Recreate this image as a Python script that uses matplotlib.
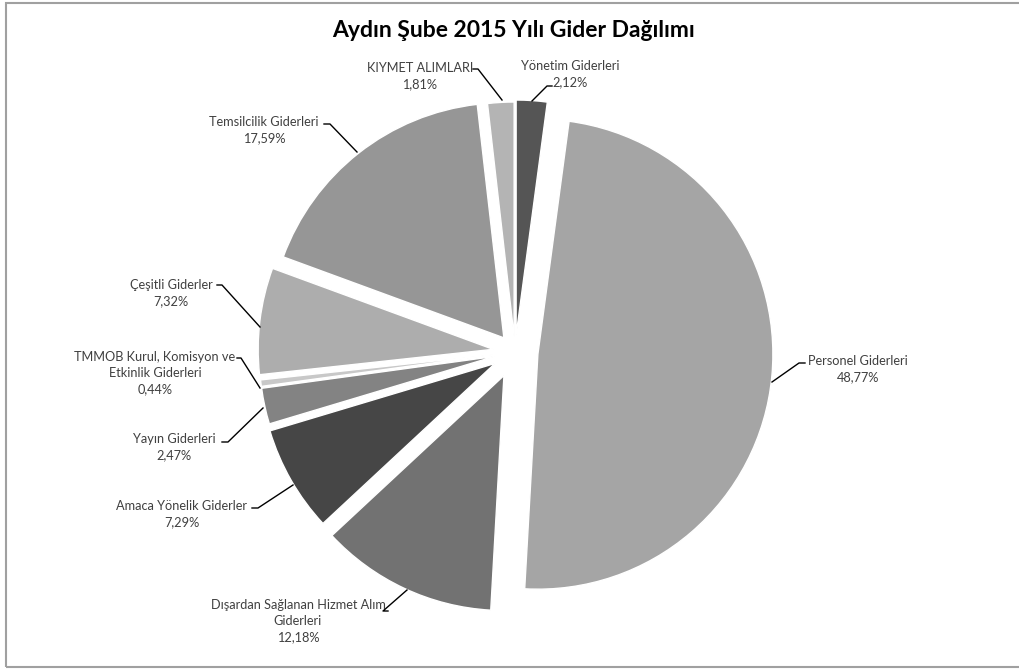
import matplotlib.pyplot as plt
from matplotlib.patches import Rectangle

plt.rcParams['font.family'] = ['Lato', 'DejaVu Sans']

labels = ['Yönetim Giderleri', 'Personel Giderleri',
          'Dışardan Sağlanan Hizmet Alım\nGiderleri', 'Amaca Yönelik Giderler',
          'Yayın Giderleri', 'TMMOB Kurul, Komisyon ve\nEtkinlik Giderleri',
          'Çeşitli Giderler', 'Temsilcilik Giderleri', 'KIYMET ALIMLARI']
values = [2.12, 48.77, 12.18, 7.29, 2.47, 0.44, 7.32, 17.59, 1.81]
colors = ['#555555', '#a5a5a5', '#727272', '#464646', '#838383',
          '#c8c8c8', '#adadad', '#969696', '#b4b4b4']
# offset of each slice in pixels
explode = [17, 23, 26, 23, 21, 21, 22, 18, 15]

# label text centre (px, from top) and leader line points
label_pos = [(570, 74), (858, 369), (298, 621), (182, 514), (174, 447),
             (155, 373), (171, 293), (264, 130), (420, 76)]
leaders = [
    [(552, 86), (547, 86), (532, 101)],
    [(805, 363), (799, 363), (772, 382)],
    [(388, 611), (383, 611), (407, 590)],
    [(252, 508), (258, 508), (293, 485)],
    [(222, 442), (228, 442), (263, 408)],
    [(237, 358), (241, 358), (260, 388)],
    [(217, 285), (222, 285), (260, 327)],
    [(324, 124), (330, 124), (357, 152)],
    [(473, 69), (478, 69), (502, 100)],
]

W, H = 1020, 670
fig = plt.figure(figsize=(10.2, 6.7), dpi=100)
ax = fig.add_axes([0, 0, 1, 1])

ax.pie(values, colors=colors, explode=explode, startangle=90, counterclock=False,
       radius=235, center=(515, H - 352), frame=True,
       wedgeprops=dict(edgecolor='white', linewidth=1))

for lab, v, (x, y) in zip(labels, values, label_pos):
    txt = lab + '\n' + ('%.2f' % v).replace('.', ',') + '%'
    ax.text(x, H - y, txt, ha='center', va='center', multialignment='center',
            fontsize=9.2, color='#404040', linespacing=1.4)

for pts in leaders:
    ax.plot([p[0] for p in pts], [H - p[1] for p in pts], color='black', lw=1)

ax.text(514, H - 30, 'Aydın Şube 2015 Yılı Gider Dağılımı', ha='center', va='center',
        fontsize=16.5, fontweight='bold', color='black')

ax.add_patch(Rectangle((6, 3), W + 10, H - 6, fill=False, edgecolor='#a0a0a0', lw=1.5))

ax.set_xlim(0, W)
ax.set_ylim(0, H)
ax.set_aspect('equal')
ax.axis('off')

fig.savefig('out.png', dpi=100)
